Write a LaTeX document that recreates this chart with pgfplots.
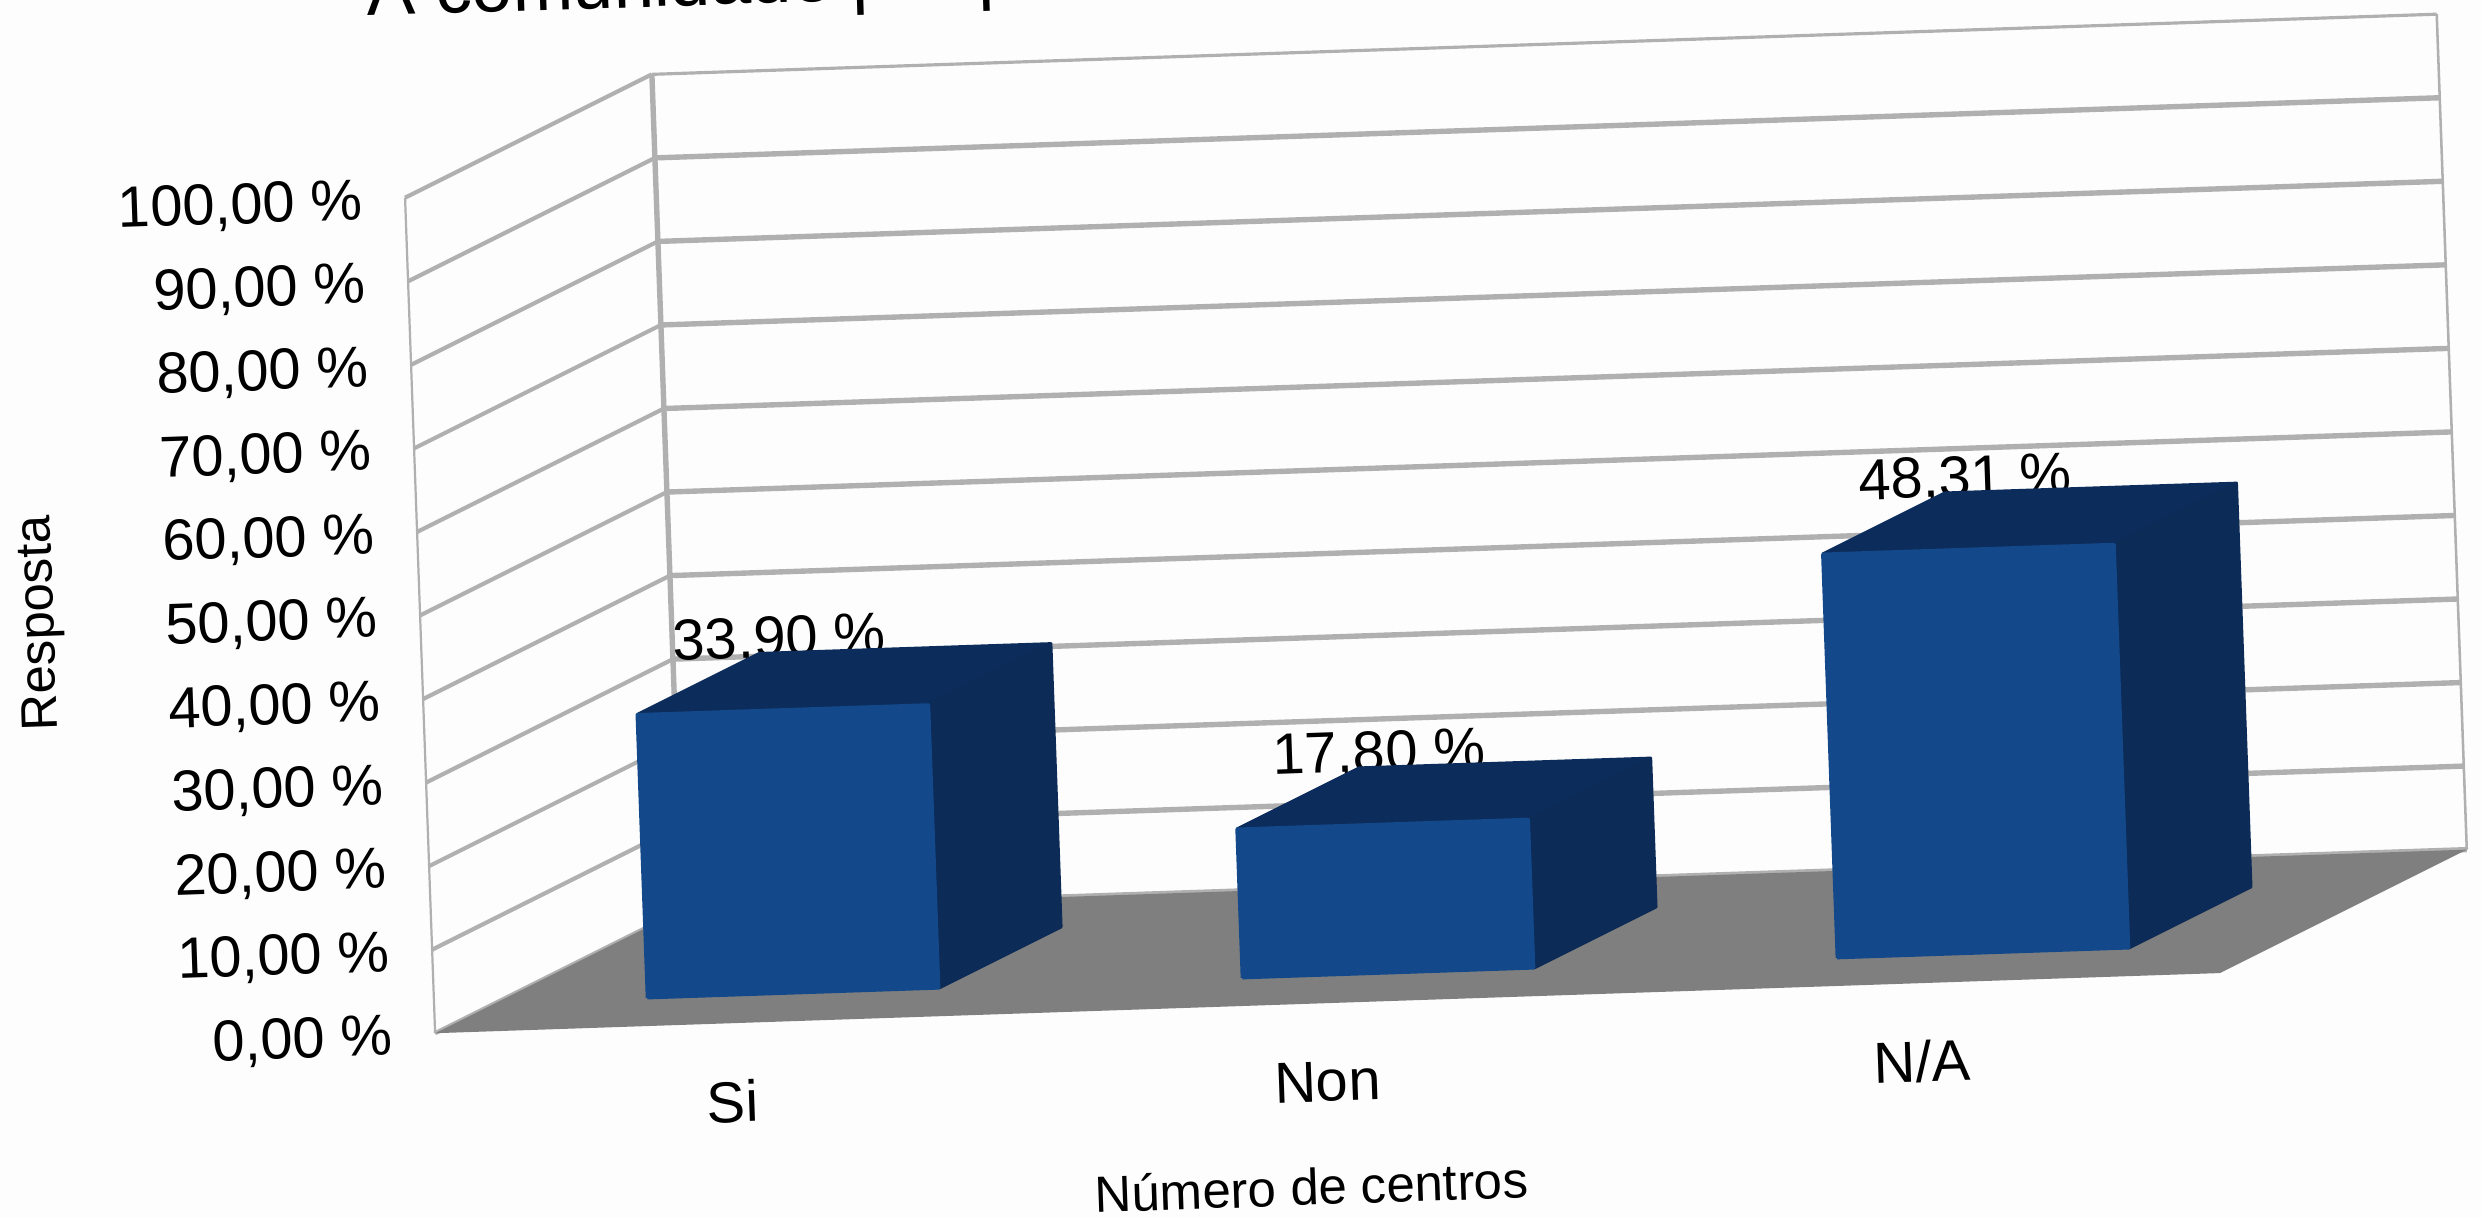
\documentclass[border=0pt]{standalone}
\usepackage{fontspec}
\setmainfont{Liberation Sans}
\usepackage{pgfplots}
\pgfplotsset{compat=1.18}

\definecolor{wall}{HTML}{FDFDFD}
\definecolor{gridc}{HTML}{B0B0B0}
\definecolor{floorc}{HTML}{7F7F7F}
\definecolor{front}{HTML}{13488A}
\definecolor{topc}{HTML}{0C2D5B}
\definecolor{side}{HTML}{0C2B56}

% one bar: left x, right x, height
\newcommand{\drawbar}[3]{
  \addplot3[fill=topc,draw=topc,line width=1pt,line join=round] coordinates {(#1,0.245,#3) (#2,0.245,#3) (#2,0.74,#3) (#1,0.74,#3) (#1,0.245,#3)};
  \addplot3[fill=side,draw=side,line width=1pt,line join=round] coordinates {(#2,0.245,0) (#2,0.74,0) (#2,0.74,#3) (#2,0.245,#3) (#2,0.245,0)};
  \addplot3[fill=front,draw=front,line width=1pt,line join=round] coordinates {(#1,0.245,0) (#2,0.245,0) (#2,0.245,#3) (#1,0.245,#3) (#1,0.245,0)};
}
% one value label, behind its bar
\newcommand{\barlabel}[3]{
  \addplot3[draw=none] coordinates {(#1,0.5,#2)} node[font=\fontsize{18.3}{18.3}\selectfont,text=black,anchor=center,xshift=-21pt,yshift=12pt,rotate=2] {#3};
}

\begin{document}
\begin{tikzpicture}
\path[use as bounding box] (0,0) rectangle (784pt,384.5pt);
\clip (0,0) rectangle (784pt,384.5pt);
\fill[wall] (0,0) rectangle (784pt,384.5pt);
\node[anchor=base west,inner sep=0pt,rotate=1.8,font=\fontsize{23}{23}\selectfont] at (116pt,379.5pt) {A comunidade por p};
\begin{axis}[
    at={(137.5pt,58pt)},
    anchor=origin,
    x={(188pt,6.335pt)},
    y={(78pt,39pt)},
    z={(-0.095pt,2.64pt)},
    xmin=0, xmax=3,
    ymin=0, ymax=1,
    zmin=0, zmax=100,
    clip=false,
    axis line style={draw=none},
    tick style={draw=none},
    xtick={0.5,1.5,2.5},
    xticklabels={Si,Non,N/A},
    ytick=\empty,
    ztick={0,10,...,100},
    zticklabels={{0,00 \%},{10,00 \%},{20,00 \%},{30,00 \%},{40,00 \%},{50,00 \%},{60,00 \%},{70,00 \%},{80,00 \%},{90,00 \%},{100,00 \%}},
    ticklabel style={font=\fontsize{18.3}{18.3}\selectfont},
    x tick label style={anchor=center,xshift=0pt,yshift=-24.8pt,rotate=2},
    z tick label style={anchor=east,xshift=-9.8pt,yshift=-1.5pt,rotate=2},
    xlabel={Número de centros},
    zlabel={Resposta},
    every axis x label/.style={at={(axis cs:1.5,0,0)},anchor=center,xshift=-5pt,yshift=-58pt,rotate=2,font=\fontsize{16.1}{16.1}\selectfont},
    every axis z label/.style={at={(axis cs:0,0,50)},anchor=center,xshift=-119.7pt,yshift=-2.5pt,rotate=92,font=\fontsize{16.1}{16.1}\selectfont},
]
% walls
\pgfplotsinvokeforeach{0,10,...,90}{
  \addplot3[gridc,line width=1.3pt] coordinates {(0,0,#1) (0,1,#1)};
  \addplot3[gridc,line width=1.7pt] coordinates {(0,1,#1) (3,1,#1)};
}
\addplot3[gridc,line width=1.3pt] coordinates {(0,0,100) (0,1,100)};
\addplot3[gridc,line width=1pt] coordinates {(0,1,100) (3,1,100)};
\addplot3[gridc,line width=0.7pt] coordinates {(0,0,0) (0,0,100)};
\addplot3[gridc,line width=1.7pt] coordinates {(0,1,0) (0,1,100)};
\addplot3[gridc,line width=0.8pt] coordinates {(3,1,0) (3,1,100)};
% floor
\addplot3[fill=floorc,draw=none] coordinates {(0,0,0) (3,0,0) (3,1,0) (0,1,0) (0,0,0)};
% labels and bars
\barlabel{0.5}{33.90}{33,90 \%}
\barlabel{1.5}{17.80}{17,80 \%}
\barlabel{2.5}{48.31}{48,31 \%}
\drawbar{0.255}{0.745}{33.90}
\drawbar{1.255}{1.745}{17.80}
\drawbar{2.255}{2.745}{48.31}
\end{axis}
\end{tikzpicture}
\end{document}
